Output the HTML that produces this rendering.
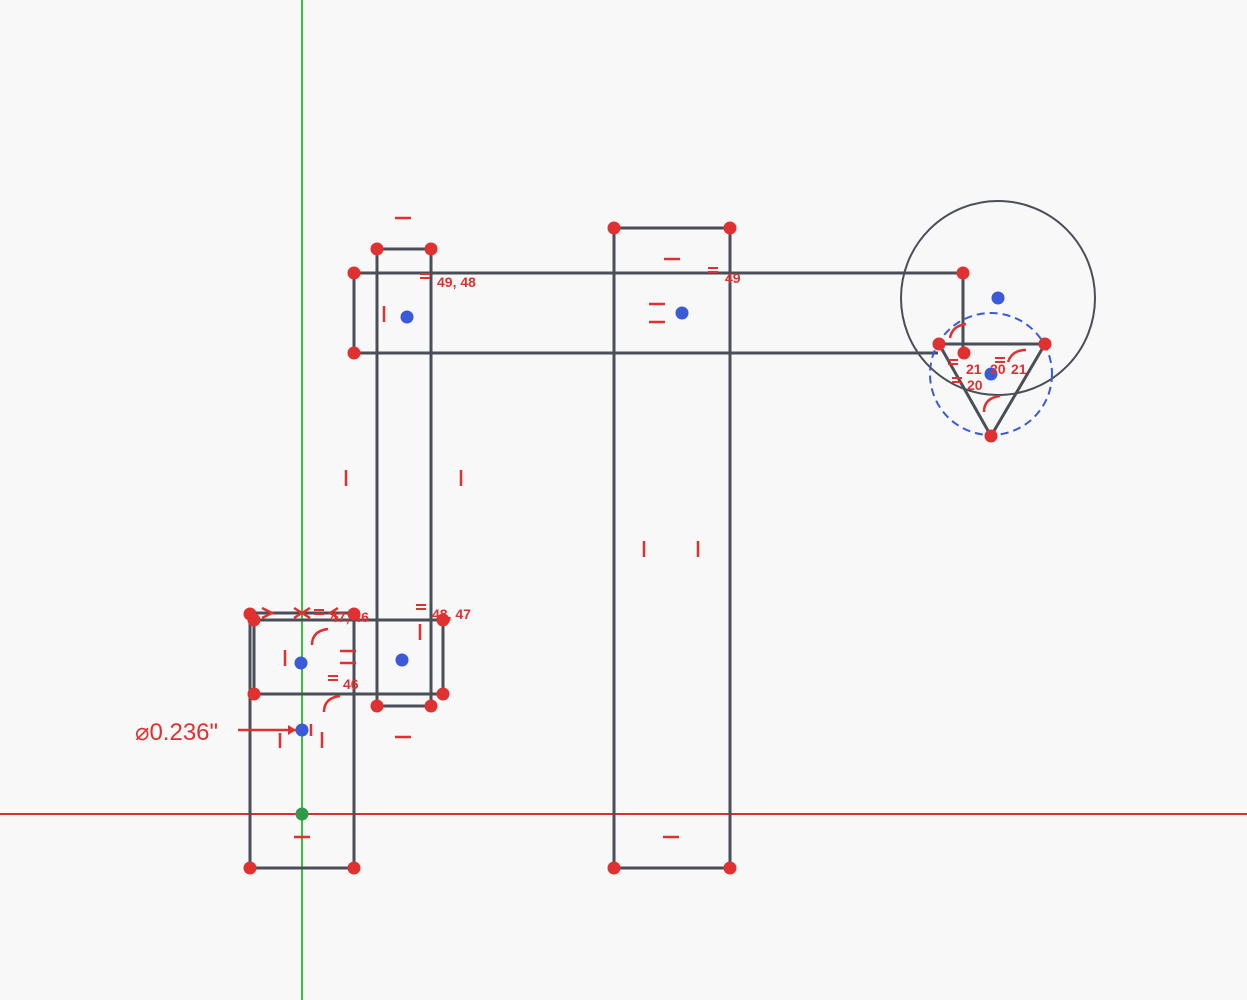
<!DOCTYPE html>
<html><head><meta charset="utf-8"><style>
html,body{margin:0;padding:0;background:#f8f8f8;}
svg{display:block}
text{font-family:"Liberation Sans",sans-serif;fill:#e03030;font-weight:bold;font-size:14px}
</style></head><body>
<svg width="1247" height="1000" viewBox="0 0 1247 1000">
<rect width="1247" height="1000" fill="#f8f8f8"/>
<line x1="302" y1="0" x2="302" y2="1000" stroke="#3cc03c" stroke-width="2"/>
<line x1="0" y1="814" x2="1247" y2="814" stroke="#d83030" stroke-width="2"/>
<g stroke="#4a4e57" stroke-width="3" fill="none">
<polyline points="250,614 250,868 354,868 354,614"/>
<line x1="250" y1="613" x2="354" y2="613"/>
<rect x="254" y="620" width="189" height="74"/>
<rect x="377" y="249" width="54" height="457"/>
<polyline points="938,353 354,353 354,273 963,273 963,353"/>
<rect x="614" y="228" width="116" height="640"/>
<line x1="939" y1="344" x2="1045" y2="344"/>
<polyline points="939,344 991,436 1045,344"/>
</g>
<circle cx="998" cy="298" r="97" fill="none" stroke="#4a4e57" stroke-width="2"/>
<circle cx="991" cy="374" r="61" fill="none" stroke="#3a5ad8" stroke-width="2" stroke-dasharray="8,5"/>
<g fill="#e03030">
<circle cx="250" cy="614" r="6.5"/><circle cx="354" cy="614" r="6.5"/><circle cx="254" cy="620" r="6.5"/><circle cx="443" cy="620" r="6.5"/>
<circle cx="254" cy="694" r="6.5"/><circle cx="443" cy="694" r="6.5"/>
<circle cx="250" cy="868" r="6.5"/><circle cx="354" cy="868" r="6.5"/>
<circle cx="377" cy="249" r="6.5"/><circle cx="431" cy="249" r="6.5"/><circle cx="377" cy="706" r="6.5"/><circle cx="431" cy="706" r="6.5"/>
<circle cx="354" cy="273" r="6.5"/><circle cx="354" cy="353" r="6.5"/><circle cx="963" cy="273" r="6.5"/><circle cx="964" cy="353" r="6.5"/>
<circle cx="614" cy="228" r="6.5"/><circle cx="730" cy="228" r="6.5"/><circle cx="614" cy="868" r="6.5"/><circle cx="730" cy="868" r="6.5"/>
<circle cx="939" cy="344" r="6.5"/><circle cx="1045" cy="344" r="6.5"/><circle cx="991" cy="436" r="6.5"/>
</g>
<g fill="#3a5ad8">
<circle cx="407" cy="317" r="6.5"/><circle cx="682" cy="313" r="6.5"/><circle cx="998" cy="298" r="6.5"/><circle cx="991" cy="374" r="6.5"/>
<circle cx="301" cy="663" r="6.5"/><circle cx="402" cy="660" r="6.5"/><circle cx="302" cy="730" r="6.5"/>
</g>
<circle cx="302" cy="814" r="6.5" fill="#2e9a4a"/>
<g stroke="#e03030" stroke-width="2.5" fill="none">
<line x1="395" y1="218" x2="411" y2="218"/>
<line x1="384" y1="306" x2="384" y2="322"/>
<line x1="664" y1="259" x2="680" y2="259"/>
<line x1="649" y1="304" x2="665" y2="304"/><line x1="649" y1="322" x2="665" y2="322"/>
<line x1="346" y1="470" x2="346" y2="486"/><line x1="461" y1="470" x2="461" y2="486"/>
<line x1="644" y1="541" x2="644" y2="557"/><line x1="698" y1="541" x2="698" y2="557"/>
<line x1="663" y1="837" x2="679" y2="837"/>
<line x1="395" y1="737" x2="411" y2="737"/>
<line x1="294" y1="837" x2="310" y2="837"/>
<line x1="285" y1="650" x2="285" y2="666"/>
<line x1="340" y1="651" x2="356" y2="651"/><line x1="340" y1="663" x2="356" y2="663"/>
<line x1="420" y1="624" x2="420" y2="640"/>
<line x1="280" y1="733" x2="280" y2="748"/><line x1="322" y1="732" x2="322" y2="748"/>
<line x1="238" y1="730" x2="296" y2="730"/>
<polyline points="262,608 272,613 262,618"/>
<polyline points="294,608 302,613 294,618"/><polyline points="310,608 302,613 310,618"/>
<polyline points="338,608 330,613 338,618"/>
<path d="M312,645 q0,-14 16,-16"/><path d="M324,712 q0,-14 16,-16"/>
<path d="M950,338 q2,-12 16,-14"/><path d="M1008,362 q4,-12 18,-12"/><path d="M984,412 q0,-14 16,-16"/>
</g>
<polygon points="296,730 288,725 288,735" fill="#e03030"/>
<line x1="311" y1="724" x2="311" y2="736" stroke="#e03030" stroke-width="2.5"/>
<g stroke="#e03030" stroke-width="2">
<line x1="420" y1="274" x2="430" y2="274"/><line x1="420" y1="278" x2="430" y2="278"/>
<line x1="708" y1="268" x2="718" y2="268"/><line x1="708" y1="272" x2="718" y2="272"/>
<line x1="314" y1="610" x2="324" y2="610"/><line x1="314" y1="614" x2="324" y2="614"/>
<line x1="416" y1="605" x2="426" y2="605"/><line x1="416" y1="609" x2="426" y2="609"/>
<line x1="328" y1="676" x2="338" y2="676"/><line x1="328" y1="680" x2="338" y2="680"/>
<line x1="948" y1="360" x2="958" y2="360"/><line x1="948" y1="364" x2="958" y2="364"/>
<line x1="995" y1="358" x2="1005" y2="358"/><line x1="995" y1="362" x2="1005" y2="362"/>
<line x1="952" y1="378" x2="962" y2="378"/><line x1="952" y1="382" x2="962" y2="382"/>
</g>
<text x="437" y="287">49, 48</text>
<text x="725" y="283">49</text>
<text x="330" y="622">47, 46</text>
<text x="432" y="619">48, 47</text>
<text x="343" y="689">46</text>
<text x="966" y="374">21</text>
<text x="990" y="374">20</text>
<text x="1011" y="374">21</text>
<text x="967" y="390">20</text>
<text x="135" y="740" style="font-weight:normal;font-size:24px">⌀0.236"</text>
</svg>
</body></html>
